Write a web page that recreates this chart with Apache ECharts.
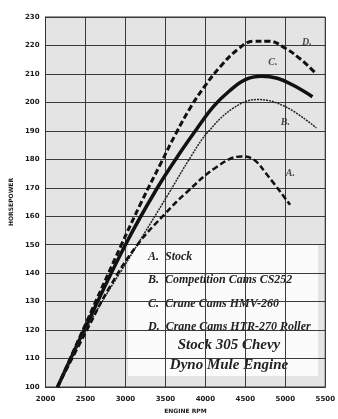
<!DOCTYPE html>
<html>
<head>
<meta charset="utf-8">
<script src="https://cdn.jsdelivr.net/npm/echarts@6/dist/echarts.min.js"></script>
<style>
  html, body { margin: 0; padding: 0; background: #fff; }
  #chart { width: 338px; height: 419px; }
</style>
</head>
<body>
<div id="chart"></div>
<script>
// engine rpm / horsepower pairs
const rpmA = [2150, 2500, 2800, 3150, 3500, 3750, 4150, 4450, 4600, 4760, 5060]
const hpA = [100, 119, 135, 150, 161, 168, 177.5, 181, 180, 175, 164]

const rpmB = [2150, 2500, 3150, 3520, 3820, 4030, 4350, 4650, 5000, 5390]
const hpB = [100, 120, 150, 167, 181, 189.5, 198, 201, 198.5, 191]

const rpmC = [2150, 2500, 3000, 3400, 3700, 3900, 4100, 4300, 4500, 4700, 4900, 5100, 5340]
const hpC = [100, 121, 150, 170, 183, 191, 198.5, 204, 208, 209.2, 208.5, 206, 202]

const rpmD = [2150, 2500, 2950, 3200, 3450, 3630, 3820, 4000, 4200, 4400, 4600, 4800, 5000, 5200, 5370]
const hpD = [100, 122, 150, 165, 179, 189, 198.5, 206, 213, 218.5, 221.5, 221.5, 219, 215, 210.5]

// curve tags A. B. C. D.
const tagText = ['A.', 'B.', 'C.', 'D.']
const tagRpm = [5063, 5002, 4845, 5269]
const tagHp = [175, 193, 214, 221]

const legendLines = [
  'A.  Stock',
  'B.  Competition Cams CS252',
  'C.  Crane Cams HMV-260',
  'D.  Crane Cams HTR-270 Roller'
]
const noteLines = ['Stock 305 Chevy', 'Dyno Mule Engine']

function pairs(xs, ys) {
  return xs.map((x, i) => [x, ys[i]])
}

const chart = echarts.init(document.getElementById('chart'))

const tickFont = {
  color: '#1a1a1a',
  fontFamily: 'DejaVu Sans',
  fontWeight: 'bold',
  fontSize: 7
}
const serifText = {
  fontFamily: 'Liberation Serif',
  fontStyle: 'italic',
  fontWeight: 'bold',
  fill: '#222'
}

chart.setOption({
  backgroundColor: '#fff',
  animation: false,
  grid: {
    left: 42,
    right: 6,
    top: 17,
    bottom: 31,
    show: true,
    backgroundColor: '#e4e4e4',
    borderColor: '#333',
    borderWidth: 1
  },
  xAxis: {
    type: 'value',
    min: 2000,
    max: 5500,
    interval: 500,
    name: 'ENGINE RPM',
    nameLocation: 'middle',
    nameGap: 21,
    nameTextStyle: Object.assign({}, tickFont, { fontSize: 6 }),
    axisLine: { show: true, lineStyle: { color: '#333' } },
    axisTick: { show: false },
    axisLabel: Object.assign({ margin: 9, formatter: v => String(v) }, tickFont),
    splitLine: { show: true, lineStyle: { color: '#3a3a3a', width: 1 } }
  },
  yAxis: {
    type: 'value',
    min: 100,
    max: 230,
    interval: 10,
    name: 'HORSEPOWER',
    nameLocation: 'middle',
    nameGap: 31,
    nameRotate: 90,
    nameTextStyle: Object.assign({}, tickFont, { fontSize: 6 }),
    axisLine: { show: true, lineStyle: { color: '#333' } },
    axisTick: { show: false },
    axisLabel: Object.assign({ margin: 6 }, tickFont),
    splitLine: { show: true, lineStyle: { color: '#3a3a3a', width: 1 } }
  },
  series: [
    {
      name: 'D',
      type: 'line',
      smooth: 0.4,
      showSymbol: false,
      data: pairs(rpmD, hpD),
      lineStyle: { color: '#111', width: 3, type: [6, 3] },
      z: 3
    },
    {
      name: 'C',
      type: 'line',
      smooth: 0.4,
      showSymbol: false,
      data: pairs(rpmC, hpC),
      lineStyle: { color: '#111', width: 3.5 },
      z: 3
    },
    {
      name: 'B',
      type: 'line',
      smooth: 0.4,
      showSymbol: false,
      data: pairs(rpmB, hpB),
      lineStyle: { color: '#222', width: 1.5, type: [2, 1] },
      z: 3
    },
    {
      name: 'A',
      type: 'line',
      smooth: 0.4,
      showSymbol: false,
      data: pairs(rpmA, hpA),
      lineStyle: { color: '#111', width: 2.5, type: [6, 3] },
      z: 3
    },
    {
      name: 'tags',
      type: 'scatter',
      symbolSize: 0,
      data: tagRpm.map((x, i) => ({ value: [x, tagHp[i]], name: tagText[i] })),
      label: {
        show: true,
        position: 'inside',
        formatter: p => p.name,
        color: '#222',
        fontFamily: 'Liberation Serif',
        fontStyle: 'italic',
        fontWeight: 'bold',
        fontSize: 10
      },
      z: 4
    }
  ],
  graphic: [
    {
      type: 'group',
      left: 128,
      top: 245,
      z: 10,
      children: [
        {
          type: 'rect',
          shape: { x: 0, y: 0, width: 190, height: 131 },
          style: { fill: '#fbfbfb' }
        }
      ].concat(legendLines.map((t, i) => ({
        type: 'text',
        x: 20,
        y: 6 + i * 23.3,
        style: Object.assign({ text: t, fontSize: 12 }, serifText)
      }))).concat(noteLines.map((t, i) => ({
        type: 'text',
        x: 101,
        y: 93 + i * 20,
        style: Object.assign({ text: t, fontSize: 15, align: 'center' }, serifText)
      })))
    }
  ]
})
</script>
</body>
</html>
